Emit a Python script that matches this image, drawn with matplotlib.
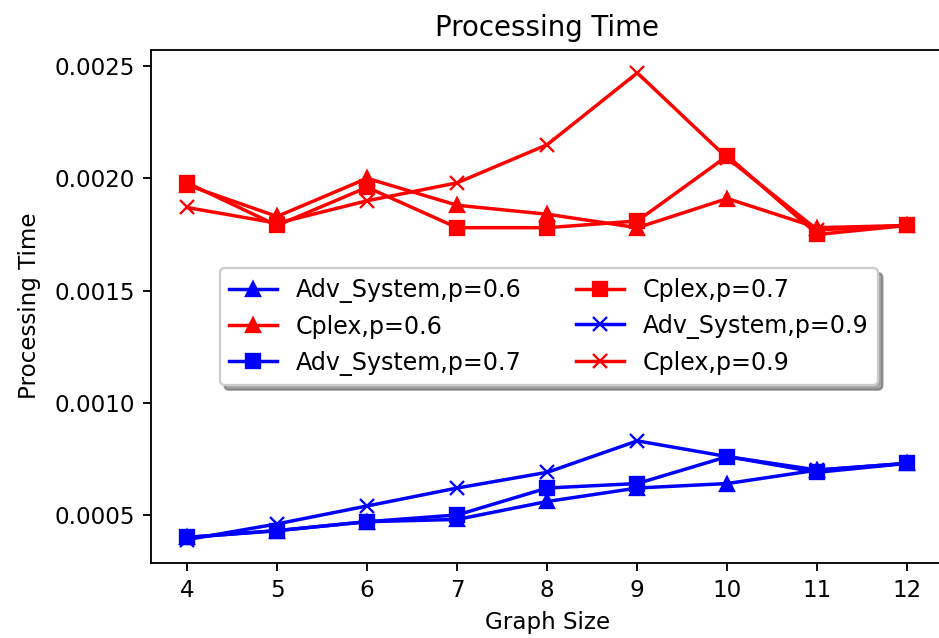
import matplotlib
matplotlib.use("Agg")
import matplotlib.pyplot as plt

# graph sizes on the x axis
sizes = [4, 5, 6, 7, 8, 9, 10, 11, 12]

# processing times
adv_06 = [0.00040, 0.00043, 0.00047, 0.00048, 0.00056, 0.00062, 0.00064, 0.00070, 0.00073]
cplex_06 = [0.00197, 0.00183, 0.00200, 0.00188, 0.00184, 0.00178, 0.00191, 0.00178, 0.00179]
adv_07 = [0.00040, 0.00043, 0.00047, 0.00050, 0.00062, 0.00064, 0.00076, 0.00069, 0.00073]
cplex_07 = [0.00198, 0.00179, 0.00196, 0.00178, 0.00178, 0.00181, 0.00210, 0.00175, 0.00179]
adv_09 = [0.00039, 0.00046, 0.00054, 0.00062, 0.00069, 0.00083, 0.00076, 0.00070, 0.00073]
cplex_09 = [0.00187, 0.00180, 0.00190, 0.00198, 0.00215, 0.00247, 0.00209, 0.00177, 0.00179]

dpi = 166
fig = plt.figure(figsize=(939 / dpi, 638 / dpi), dpi=dpi)
ax = fig.add_axes([0.1608, 0.1176, 0.8440, 0.8048])

ax.plot(sizes, adv_06, 'b-^', label='Adv_System,p=0.6')
ax.plot(sizes, cplex_06, 'r-^', label='Cplex,p=0.6')
ax.plot(sizes, adv_07, 'b-s', label='Adv_System,p=0.7')
ax.plot(sizes, cplex_07, 'r-s', label='Cplex,p=0.7')
ax.plot(sizes, adv_09, 'b-x', label='Adv_System,p=0.9')
ax.plot(sizes, cplex_09, 'r-x', label='Cplex,p=0.9')

ax.set_title('Processing Time')
ax.set_xlabel('Graph Size')
ax.set_ylabel('Processing Time', labelpad=6)

ax.legend(ncol=2, shadow=True, loc='center', bbox_to_anchor=(0.502, 0.46),
          fontsize=10.3, columnspacing=2.3)

fig.savefig('out.png', dpi=dpi)
